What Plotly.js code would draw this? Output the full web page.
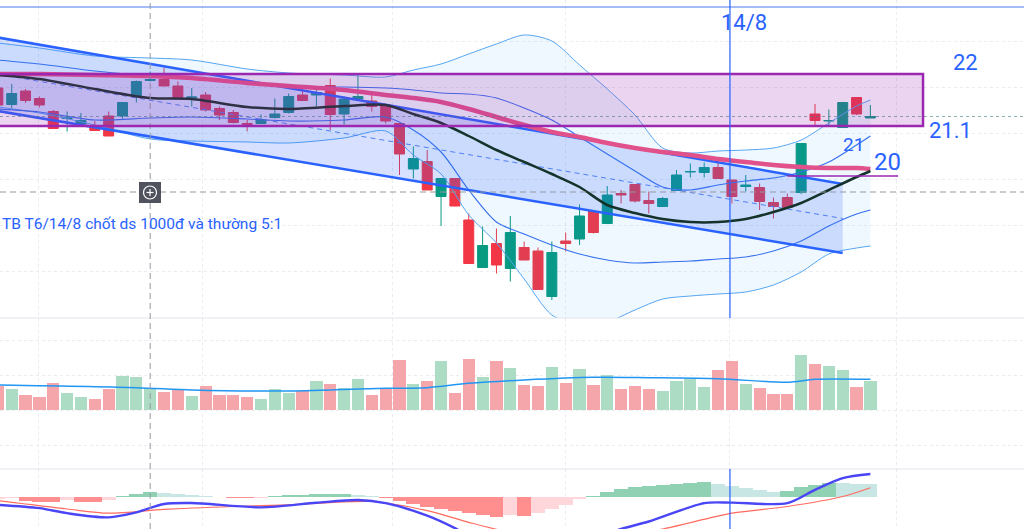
<!DOCTYPE html>
<html><head><meta charset="utf-8">
<script src="https://cdn.plot.ly/plotly-3.0.1.min.js"></script>
<style>html,body{margin:0;padding:0;background:#fff;}#chart{width:1024px;height:529px;}</style>
</head><body><div id="chart"></div>
<script>
// ---- candles (index -1 .. 62) ----
const candleIdx = [-1,0,1,2,3,4,5,6,7,8,9,10,11,12,13,14,15,16,17,18,19,20,21,22,23,24,25,26,27,28,29,30,31,32,33,34,35,36,37,38,39,40,41,42,43,44,45,46,47,48,49,50,51,52,53,54,55,56,57,58,59,60,61,62];
const openP  = [21.86,21.53,21.80,21.65,21.39,21.25,21.15,21.09,21.30,21.30,21.69,22.01,22.03,21.90,21.66,21.72,21.45,21.37,21.15,21.15,21.27,21.37,21.72,21.72,21.91,21.34,21.64,21.60,21.52,21.15,20.24,20.39,19.69,20.05,19.22,18.27,18.75,18.25,18.67,18.60,17.69,18.80,18.84,19.39,19.15,19.75,19.93,19.61,19.49,19.81,20.18,20.17,20.27,20.02,19.89,19.87,19.57,19.67,19.77,21.34,21.20,21.07,21.67,21.26];
const highP  = [21.90,21.94,21.84,21.69,21.42,21.39,21.36,21.20,21.39,21.57,22.01,22.19,22.27,21.99,21.86,21.78,21.49,21.42,21.22,21.33,21.65,21.75,21.90,21.90,22.05,21.69,22.12,21.72,21.52,21.15,20.69,20.62,20.06,20.05,19.35,19.09,19.05,19.30,18.79,18.67,18.79,18.97,19.53,19.39,19.90,19.82,19.93,19.79,19.68,20.22,20.35,20.37,20.40,20.02,20.12,19.95,19.67,19.75,20.75,21.54,21.43,21.57,21.67,21.52];
const lowP   = [21.46,21.46,21.56,21.47,21.05,20.99,21.12,21.01,20.90,21.25,21.57,21.99,21.90,21.67,21.49,21.39,21.22,21.15,20.99,21.15,21.25,21.35,21.61,21.49,21.02,21.13,21.64,21.39,21.15,20.12,20.05,19.82,19.10,19.49,18.35,18.27,18.15,17.99,18.42,17.83,17.62,18.59,18.72,18.95,19.15,19.55,19.57,19.35,19.49,19.81,20.07,20.07,20.05,19.55,19.79,19.42,19.25,19.45,19.74,21.12,21.10,21.07,21.32,21.26];
const closeP = [21.52,21.75,21.61,21.52,21.05,21.26,21.21,21.01,20.90,21.57,21.99,22.03,21.90,21.67,21.68,21.42,21.32,21.17,21.13,21.23,21.34,21.69,21.61,21.77,21.33,21.64,21.69,21.49,21.20,20.54,20.45,19.82,20.05,19.50,18.35,18.71,18.32,18.97,18.42,17.83,18.57,18.75,19.30,18.97,19.72,19.72,19.60,19.55,19.65,20.12,20.19,20.27,20.05,19.69,19.92,19.59,19.49,19.47,20.75,21.21,21.21,21.57,21.34,21.29];
const volume = [720000,630000,450000,400000,820000,500000,400000,330000,620000,1020000,980000,650000,550000,600000,420000,720000,450000,450000,400000,330000,630000,500000,570000,860000,790000,660000,930000,450000,640000,1500000,780000,860000,1480000,500000,1530000,980000,1480000,1260000,760000,710000,1290000,810000,1240000,760000,1050000,620000,720000,620000,570000,860000,940000,690000,1200000,1460000,790000,660000,480000,480000,1650000,1390000,1310000,1200000,690000,860000];
const macdHist = [-0.016,-0.012,-0.048,-0.052,-0.056,-0.032,-0.056,-0.06,-0.032,0.012,0.04,0.06,0.056,0.044,0.032,0.02,0.008,-0.008,-0.012,-0.008,0.012,0.024,0.032,0.036,0.04,0.042,0.028,0.012,-0.008,-0.048,-0.08,-0.112,-0.14,-0.168,-0.192,-0.216,-0.232,-0.208,-0.22,-0.184,-0.14,-0.088,-0.024,0.02,0.06,0.096,0.124,0.14,0.148,0.16,0.176,0.184,0.16,0.136,0.112,0.088,0.064,0.08,0.12,0.152,0.176,0.168,0.164,0.16];

// ---- indicator lines, read at sample candles ----
const sampleIdx = [-1,2,6,10,13,17,20,24,27,29,31,33,35,37,39,41,43,45,47,49,51,53,55,57,59,61,62];
const maShort   = [22.12,22.04,21.84,21.66,21.64,21.48,21.44,21.50,21.52,21.34,21.16,20.90,20.62,20.38,20.14,19.88,19.52,19.36,19.24,19.18,19.18,19.24,19.38,19.56,19.82,20.08,20.20];
const maLong    = [22.14,22.14,22.12,22.10,22.06,21.96,21.90,21.82,21.72,21.66,21.58,21.44,21.28,21.12,20.98,20.88,20.76,20.66,20.58,20.52,20.44,20.38,20.32,20.28,20.26,20.26,20.24];
const bbUpper2  = [22.76,22.66,22.50,22.46,22.42,22.24,22.16,22.12,22.08,22.22,22.34,22.54,22.74,22.92,22.80,22.32,21.84,21.32,20.66,20.56,20.60,20.62,20.66,20.82,21.16,21.50,21.62];
const bbUpper1  = [22.42,22.34,22.20,22.10,22.04,21.96,21.88,21.88,21.86,21.82,21.76,21.74,21.66,21.46,21.22,20.88,20.54,20.20,19.88,19.82,19.92,20.00,20.06,20.18,20.38,20.72,20.90];
const bbLower1  = [21.44,21.38,21.22,21.26,21.28,21.24,21.20,21.22,21.28,21.02,20.58,19.82,19.18,18.94,18.72,18.54,18.42,18.36,18.38,18.40,18.44,18.48,18.60,18.80,19.10,19.34,19.42];
const bbLower2  = [21.48,21.36,21.12,20.84,20.80,20.78,20.76,20.86,21.00,20.52,20.14,19.32,18.76,18.04,17.32,17.12,17.18,17.42,17.64,17.70,17.74,17.78,17.92,18.18,18.54,18.66,18.70];

// ---- trend channel ----
const channelIdx   = [-1, 60];
const channelUpper = [22.87, 19.94];
const channelMid   = [22.135, 19.25];
const channelLower = [21.40, 18.56];

// ---- volume MA ----
const volMaIdx = [-1,9,13,20,27,30,33,37,42,46,51,56,58,62];
const volMa    = [750000,670000,600000,570000,650000,670000,800000,900000,980000,970000,940000,830000,920000,920000];

// ---- MACD lines ----
const macdIdx  = [-1,2,4,7,9,11,13,18,22,25,27,30,32,35,38,41,44,46,50,52,56,58,60,62];
const macdLine = [-0.09,-0.13,-0.19,-0.24,-0.18,-0.08,-0.068,-0.12,-0.065,-0.032,-0.07,-0.22,-0.37,-0.65,-0.72,-0.55,-0.38,-0.29,-0.07,-0.064,-0.07,0.09,0.23,0.28];
const sigIdx   = [-1,4,7,11,16,20,26,30,33,36,40,44,47,52,56,60,62];
const sigLine  = [-0.04,-0.14,-0.19,-0.145,-0.11,-0.09,-0.05,-0.16,-0.30,-0.42,-0.50,-0.45,-0.38,-0.19,-0.11,0.01,0.115];

// ---- drawn levels / labels ----
const zoneTop = 22.14, zoneBottom = 21.1, zoneStart = -3, zoneEnd = 65.8;
const level20 = 20.1, level20Start = 56, level20End = 64;
const lastPrice = 21.29;
const crossIdx = 10, crossPrice = 19.78;
const markIdx = 51.86;
const topLine = 23.48;
const gridIdx = [1.97, 13.8, 27.5, 39.95, 51.86, 63.85];

const BLUE = '#2962ff';
const UP = '#089981', DN = '#f23645';

const volColors = closeP.map((c,i)=> c >= openP[i] ? '#acdcc4' : '#f5a6ab');
const histColors = macdHist.map((h,i)=>{
  const prev = i>0 ? macdHist[i-1] : h - 0.001;
  if (h >= 0) return h >= prev ? '#8fd1b2' : '#c8e7e4';
  return h < prev ? '#ff8e8e' : '#ffd6da';
});

const sp = {shape:'spline', smoothing:0.8};
const traces = [
  {x:sampleIdx, y:bbLower2, type:'scatter', mode:'lines', line:Object.assign({color:'#55a6f2', width:1}, sp), hoverinfo:'skip'},
  {x:sampleIdx, y:bbUpper2, type:'scatter', mode:'lines', line:Object.assign({color:'#55a6f2', width:1}, sp), fill:'tonexty', fillcolor:'rgba(33,150,243,0.07)', hoverinfo:'skip'},
  {x:channelIdx, y:channelLower, type:'scatter', mode:'lines', line:{width:0, color:BLUE}, hoverinfo:'skip'},
  {x:channelIdx, y:channelUpper, type:'scatter', mode:'lines', line:{width:0, color:BLUE}, fill:'tonexty', fillcolor:'rgba(41,98,255,0.19)', hoverinfo:'skip'},
  {x:candleIdx, open:openP, high:highP, low:lowP, close:closeP, type:'candlestick',
   increasing:{line:{color:UP, width:1}, fillcolor:UP}, decreasing:{line:{color:DN, width:1}, fillcolor:DN}, whiskerwidth:0, hoverinfo:'skip'},
  {x:sampleIdx, y:bbUpper1, type:'scatter', mode:'lines', line:Object.assign({color:'#3570ee', width:1.1}, sp), hoverinfo:'skip'},
  {x:sampleIdx, y:bbLower1, type:'scatter', mode:'lines', line:Object.assign({color:'#3570ee', width:1.1}, sp), hoverinfo:'skip'},
  {x:channelIdx, y:channelUpper, type:'scatter', mode:'lines', line:{color:BLUE, width:2.5}, hoverinfo:'skip'},
  {x:channelIdx, y:channelLower, type:'scatter', mode:'lines', line:{color:BLUE, width:2.5}, hoverinfo:'skip'},
  {x:channelIdx, y:channelMid, type:'scatter', mode:'lines', line:{color:'#4f7ff5', width:1, dash:'5px,4px'}, hoverinfo:'skip'},
  {x:sampleIdx, y:maLong, type:'scatter', mode:'lines', line:Object.assign({color:'#e2528a', width:4.5}, sp), hoverinfo:'skip'},
  {x:sampleIdx, y:maShort, type:'scatter', mode:'lines', line:Object.assign({color:'#14332a', width:2.5}, sp), hoverinfo:'skip'},
  // volume
  {x:candleIdx, y:volume, type:'bar', yaxis:'y2', marker:{color:volColors, line:{width:0}}, width:0.88, hoverinfo:'skip'},
  {x:volMaIdx, y:volMa, type:'scatter', mode:'lines', yaxis:'y2', line:Object.assign({color:'#2196f3', width:1.5}, sp), hoverinfo:'skip'},
  // macd
  {x:candleIdx, y:macdHist, type:'bar', yaxis:'y3', marker:{color:histColors, line:{width:0}}, width:1.0, hoverinfo:'skip'},
  {x:sigIdx, y:sigLine, type:'scatter', mode:'lines', yaxis:'y3', line:Object.assign({color:'#ff6a5e', width:1.2}, sp), hoverinfo:'skip'},
  {x:macdIdx, y:macdLine, type:'scatter', mode:'lines', yaxis:'y3', line:Object.assign({color:'#4a46f5', width:2.4}, sp), hoverinfo:'skip'}
];

const P = v => 1 - v/529;      // pixel row -> paper
const Q = v => v/1024;         // pixel col -> paper
const mainBottom = P(318), volBottom = P(469);

const shapes = [
  {type:'line', xref:'paper', yref:'paper', x0:0, x1:1, y0:mainBottom, y1:mainBottom, line:{color:'#e0e3eb', width:1}},
  {type:'line', xref:'paper', yref:'paper', x0:0, x1:1, y0:volBottom, y1:volBottom, line:{color:'#e0e3eb', width:1}},
  {type:'line', xref:'paper', yref:'y', x0:0, x1:1, y0:topLine, y1:topLine, line:{color:'#4a78ec', width:1}},
  {type:'line', xref:'paper', yref:'y', x0:0, x1:1, y0:lastPrice, y1:lastPrice, line:{color:'rgba(60,130,130,0.6)', width:1, dash:'dot'}},
  {type:'line', xref:'x', yref:'paper', x0:crossIdx, x1:crossIdx, y0:0, y1:1, line:{color:'#9598a1', width:1, dash:'6px,4px'}},
  {type:'line', xref:'paper', yref:'y', x0:0, x1:1, y0:crossPrice, y1:crossPrice, line:{color:'#9598a1', width:1, dash:'6px,4px'}},
  {type:'rect', xref:'x', yref:'y', x0:zoneStart, x1:zoneEnd, y0:zoneBottom, y1:zoneTop, layer:'above',
   fillcolor:'rgba(156,39,176,0.2)', line:{color:'#9c27b0', width:2.5}},
  {type:'line', xref:'x', yref:'y', x0:level20Start, x1:level20End, y0:level20, y1:level20, line:{color:'#9c27b0', width:1.5}},
  {type:'line', xref:'x', yref:'paper', x0:markIdx, x1:markIdx, y0:mainBottom, y1:1, line:{color:BLUE, width:1.2}},
  {type:'line', xref:'x', yref:'paper', x0:markIdx, x1:markIdx, y0:0, y1:volBottom, line:{color:BLUE, width:1.2}},
  {type:'rect', xref:'paper', yref:'paper', x0:Q(139), x1:Q(161), y0:P(203), y1:P(182), fillcolor:'#50535e', line:{width:0}, layer:'above'},
  {type:'circle', xref:'paper', yref:'paper', x0:Q(143.5), x1:Q(156.5), y0:P(199), y1:P(186), line:{color:'#ffffff', width:1.2}, layer:'above'},
  {type:'line', xref:'paper', yref:'paper', x0:Q(146.5), x1:Q(153.5), y0:P(192.5), y1:P(192.5), line:{color:'#ffffff', width:1.2}, layer:'above'},
  {type:'line', xref:'paper', yref:'paper', x0:Q(150), x1:Q(150), y0:P(189), y1:P(196), line:{color:'#ffffff', width:1.2}, layer:'above'}
];

const FONT = 'Roboto, "Liberation Sans", sans-serif';
const annotations = [
  {x:52.9, y:23.18, xref:'x', yref:'y', text:'14/8', showarrow:false, font:{family:FONT, size:22, color:BLUE}},
  {x:68.9, y:22.38, xref:'x', yref:'y', text:'22', showarrow:false, font:{family:FONT, size:22, color:BLUE}},
  {x:67.75, y:21.02, xref:'x', yref:'y', text:'21.1', showarrow:false, font:{family:FONT, size:22, color:BLUE}},
  {x:60.75, y:20.74, xref:'x', yref:'y', text:'21', showarrow:false, font:{family:FONT, size:19, color:BLUE}},
  {x:63.2, y:20.38, xref:'x', yref:'y', text:'20', showarrow:false, font:{family:FONT, size:24, color:BLUE}},
  {x:0, y:19.14, xref:'paper', yref:'y', xanchor:'left', text:'TB T6/14/8 chốt ds 1000đ và thường 5:1', showarrow:false, font:{family:FONT, size:15.5, color:BLUE}}
];

const gridStyle = {showgrid:true, gridcolor:'#e9ecf1', griddash:'dot', gridwidth:1};
const layout = {
  width:1024, height:529, autosize:false,
  margin:{l:0, r:0, t:0, b:0, pad:0},
  paper_bgcolor:'#ffffff', plot_bgcolor:'#ffffff',
  showlegend:false, hovermode:false, bargap:0, boxgap:0.28, boxgroupgap:0,
  xaxis:Object.assign({range:[-0.845, 73.09], showticklabels:false, zeroline:false, showline:false, ticks:'',
    tickmode:'array', tickvals:gridIdx, rangeslider:{visible:false}, fixedrange:true}, gridStyle),
  yaxis:Object.assign({domain:[mainBottom, 1], range:[17.26, 23.62], showticklabels:false, zeroline:false, ticks:'',
    tickmode:'linear', tick0:22.8, dtick:0.92, fixedrange:true}, gridStyle),
  yaxis2:Object.assign({domain:[volBottom, mainBottom], range:[-1770000, 2760000], showticklabels:false, zeroline:false, ticks:'',
    tickmode:'linear', tick0:0, dtick:1050000, fixedrange:true}, gridStyle),
  yaxis3:{domain:[0, volBottom], range:[-0.38, 0.34], showticklabels:false, zeroline:false, showgrid:false, ticks:'', fixedrange:true},
  shapes:shapes, annotations:annotations
};

Plotly.newPlot('chart', traces, layout, {staticPlot:true, displayModeBar:false});
</script>
</body></html>
